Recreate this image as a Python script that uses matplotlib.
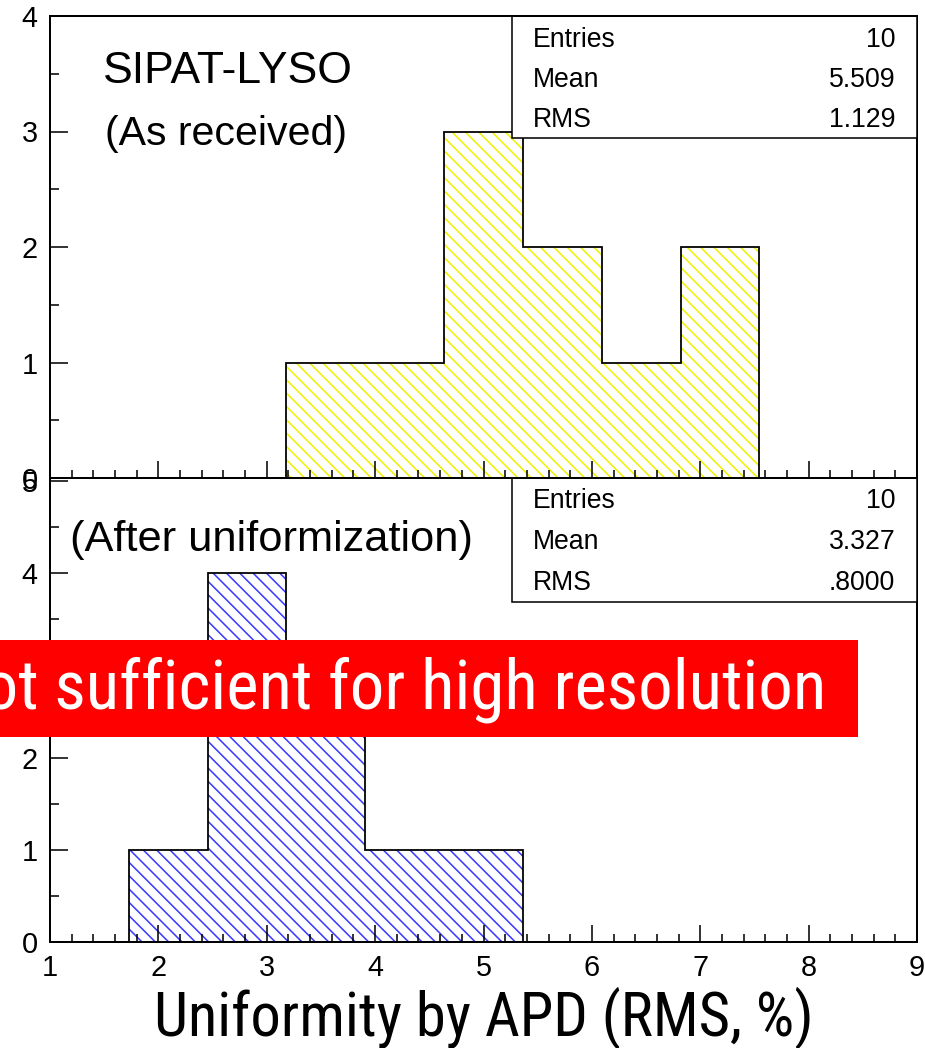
import numpy as np
import matplotlib
matplotlib.use('Agg')
import matplotlib.pyplot as plt
from matplotlib import font_manager
from matplotlib.patches import Rectangle
from matplotlib.ticker import MultipleLocator

# histogram binning (11 bins between 1 and 9)
bin_edges = np.linspace(1, 9, 12)

# counts per bin
counts_received = [0, 0, 0, 1, 1, 3, 2, 1, 2, 0, 0]
counts_uniform = [0, 1, 4, 3, 1, 1, 0, 0, 0, 0, 0]

stats_received = [('Entries', '10'), ('Mean', '5.509'), ('RMS', '1.129')]
stats_uniform = [('Entries', '10'), ('Mean', '3.327'), ('RMS', '.8000')]

x_label = 'Uniformity by APD (RMS, %)'
banner_text = 'Not sufficient for high resolution'

plt.rcParams['font.family'] = ['Liberation Sans', 'DejaVu Sans']
plt.rcParams['hatch.linewidth'] = 0.7
plt.rcParams['axes.linewidth'] = 0.9


# 找一个窄体字体（类似 Arial Narrow）
def find_narrow_font():
    wanted = ['Liberation Sans Narrow', 'Arial Narrow', 'Roboto Condensed', 'PT Sans Narrow',
              'Archivo Narrow', 'Barlow Semi Condensed']
    for name in wanted:
        for f in font_manager.fontManager.ttflist:
            if f.name == name and f.style == 'normal' and f.weight in ('normal', 'regular', 400):
                return f.fname
    return None


narrow_file = find_narrow_font()


def narrow_props(size):
    if narrow_file:
        return font_manager.FontProperties(fname=narrow_file, size=size)
    return font_manager.FontProperties(family='Liberation Sans', size=size)


dpi = 160
fig = plt.figure(figsize=(925 / dpi, 1048 / dpi), dpi=dpi)
renderer = fig.canvas.get_renderer()


# 按目标像素宽度调字号
def fit_size(text, target_px, base=30):
    t = fig.text(0, 0, text, fontproperties=narrow_props(base))
    w = t.get_window_extent(renderer).width
    t.remove()
    return base * target_px / w


# 图的位置（像素换算）
left = 50 / 925
width = 867 / 925
ax_top = fig.add_axes([left, 1 - 478 / 1048, width, 462 / 1048])
ax_bot = fig.add_axes([left, 1 - 942 / 1048, width, 464 / 1048])


def draw_hist(ax, counts, hatch_color):
    ax.stairs(counts, bin_edges, fill=True, facecolor='none', edgecolor=hatch_color,
              hatch='\\\\\\\\', linewidth=0, zorder=1)
    ax.stairs(counts, bin_edges, baseline=0, color='black', linewidth=0.8, zorder=2)


def style_axes(ax, ymax, show_xlabels):
    ax.set_xlim(1, 9)
    ax.set_ylim(0, ymax)
    ax.xaxis.set_major_locator(MultipleLocator(1))
    ax.xaxis.set_minor_locator(MultipleLocator(0.2))
    ax.yaxis.set_major_locator(MultipleLocator(1))
    ax.yaxis.set_minor_locator(MultipleLocator(0.5))
    ax.tick_params(which='both', direction='in', top=False, right=False, width=0.7)
    ax.tick_params(axis='x', which='major', length=7.6, pad=5.5, labelsize=13)
    ax.tick_params(axis='x', which='minor', length=3.6)
    ax.tick_params(axis='y', which='major', length=8, pad=5.5, labelsize=13)
    ax.tick_params(axis='y', which='minor', length=4)
    ax.tick_params(axis='x', labelbottom=show_xlabels)
    for s in ax.spines.values():
        s.set_linewidth(0.9)
    ax.spines['top'].set_zorder(5)


def stats_box(ax, rows, y_bottom, row_y):
    ax.add_patch(Rectangle((0.533, y_bottom), 1 - 0.533, 1 - y_bottom, transform=ax.transAxes,
                           facecolor='white', edgecolor='black', linewidth=0.7, zorder=4,
                           clip_on=False))
    for (name, val), y in zip(rows, row_y):
        ax.text(0.557, y, name, transform=ax.transAxes, fontsize=12, va='center', ha='left', zorder=5)
        ax.text(0.975, y, val, transform=ax.transAxes, fontsize=12, va='center', ha='right', zorder=5)


draw_hist(ax_top, counts_received, '#f0f000')
style_axes(ax_top, 4, False)
stats_box(ax_top, stats_received, 0.736, [0.948, 0.862, 0.775])
ax_top.text(0.061, 0.879, 'SIPAT-LYSO', transform=ax_top.transAxes, fontsize=20, va='center')
ax_top.text(0.063, 0.745, '(As received)', transform=ax_top.transAxes, fontsize=18.5, va='center')

draw_hist(ax_bot, counts_uniform, '#3a3aff')
style_axes(ax_bot, 5.03, True)
stats_box(ax_bot, stats_uniform, 0.733, [0.950, 0.861, 0.773])
ax_bot.text(0.023, 0.866, '(After uniformization)', transform=ax_bot.transAxes, fontsize=19.5, va='center')
ax_bot.set_xlabel(x_label, labelpad=2, fontproperties=narrow_props(fit_size(x_label, 660)))

# 红色横幅
fig.add_artist(Rectangle((0, 1 - 737 / 1048), 858 / 925, 97 / 1048, transform=fig.transFigure,
                         facecolor='#ff0000', edgecolor='none', zorder=10))
banner_size = fit_size(banner_text[1:], 842)
fig.text(826 / 925, 1 - 690 / 1048, banner_text, color='white', ha='right', va='center',
         fontproperties=narrow_props(banner_size), zorder=11)

fig.savefig('out.png', dpi=dpi, facecolor='white')
